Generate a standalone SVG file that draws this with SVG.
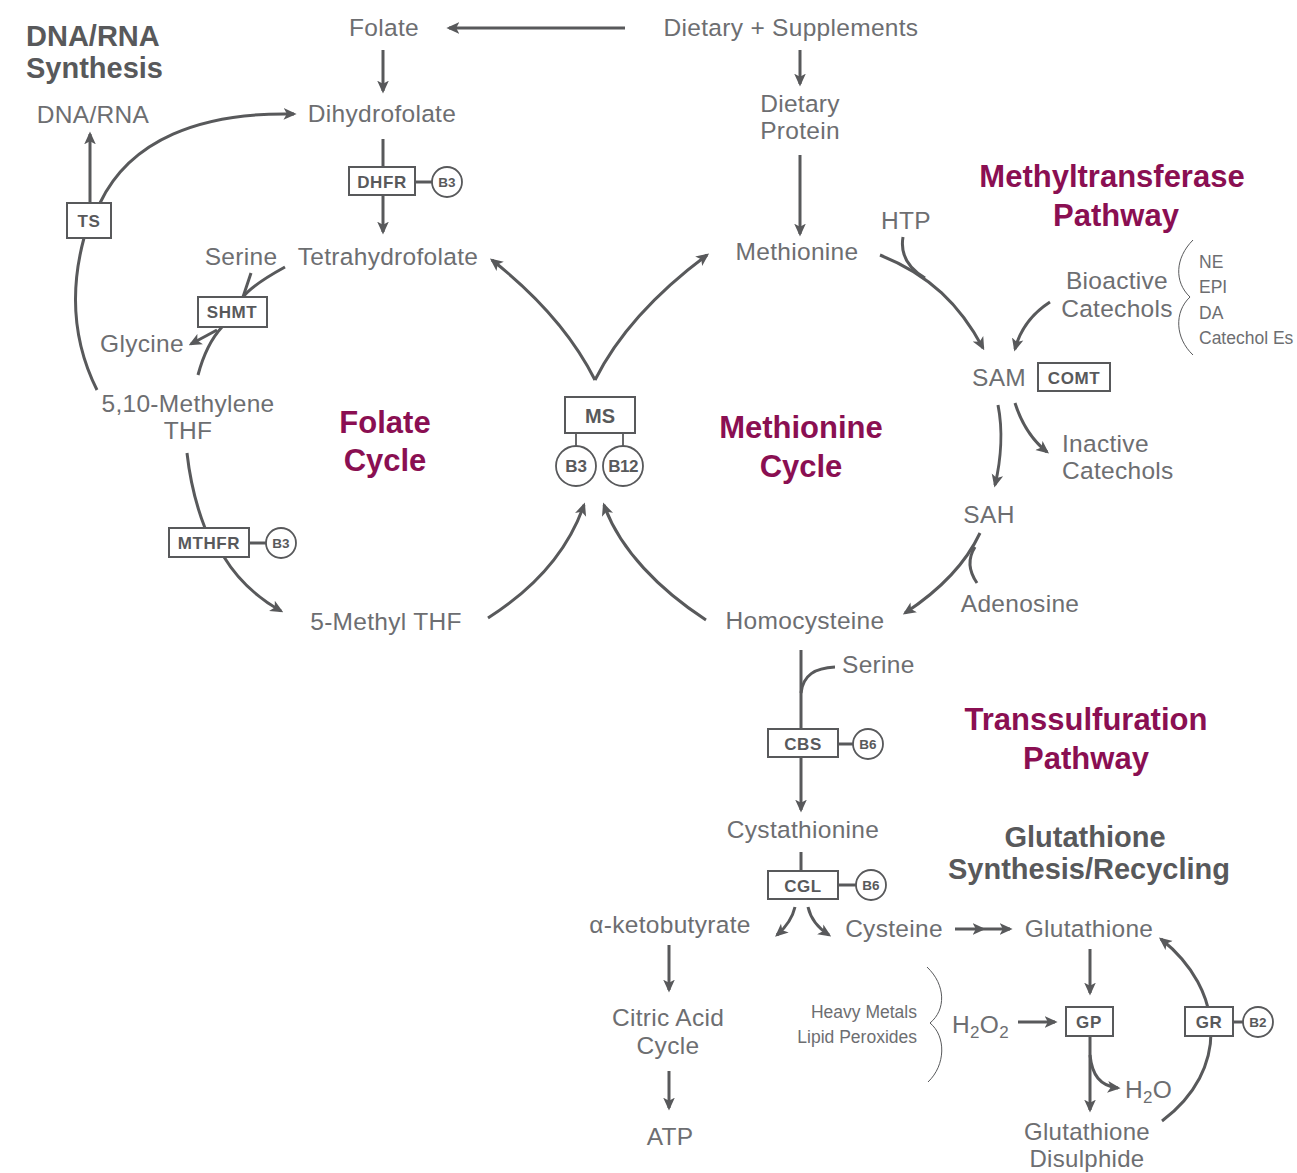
<svg xmlns="http://www.w3.org/2000/svg" width="1297" height="1173" viewBox="0 0 1297 1173">
<style>
text{font-family:"Liberation Sans",Arial,sans-serif}
.t{font-size:24.5px;fill:#6d6e71;letter-spacing:0.3px}
.s{font-size:17.5px;fill:#6d6e71}
.m{font-size:31px;font-weight:bold;fill:#8a0f52}
.d{font-size:29px;font-weight:bold;fill:#58595b}
.e{font-size:17px;font-weight:bold;fill:#58595b;letter-spacing:0.6px}
.v{font-size:13.5px;font-weight:bold;fill:#58595b}
.vb{font-size:17px;font-weight:bold;fill:#58595b}
.bx{fill:#fff;stroke:#58595b;stroke-width:2}
.c{fill:#fff;stroke:#58595b;stroke-width:1.8}
.ln{fill:none;stroke:#58595b;stroke-width:3}
.ar{fill:none;stroke:#58595b;stroke-width:3;marker-end:url(#ah)}
.br{fill:none;stroke:#58595b;stroke-width:1}
.st{fill:none;stroke:#58595b;stroke-width:1.8}
</style>
<defs>
<marker id="ah" viewBox="0 0 10 10" refX="8" refY="5" markerWidth="13" markerHeight="13" markerUnits="userSpaceOnUse" orient="auto"><path d="M0,0.5 L10,5 L0,9.5 L2.5,5 z" fill="#58595b"/></marker>
</defs>
<rect width="1297" height="1173" fill="#fff"/>

<g id="connectors">
<line class="ar" x1="625" y1="28" x2="449" y2="28"/>
<line class="ar" x1="383" y1="50" x2="383" y2="91"/>
<line class="ln" x1="383" y1="139" x2="383" y2="167"/>
<line class="ar" x1="383" y1="195" x2="383" y2="232"/>
<line class="ln" x1="415" y1="182" x2="432" y2="182"/>
<line class="ar" x1="800" y1="50" x2="800" y2="84"/>
<line class="ar" x1="800" y1="155" x2="800" y2="234"/>
<line class="ar" x1="90" y1="203" x2="90" y2="134"/>
<path class="ar" d="M100,203 C130,140 200,112 294,114"/>
<path class="ln" d="M84,238 C70,290 72,340 97,390"/>
<path class="ln" d="M251,273 L243,297"/>
<path class="ln" d="M285,267 C265,278 250,288 243,297"/>
<path class="ln" d="M222,327 C210,340 202,360 198,375"/>
<path class="ar" d="M217,330 L191,344"/>
<path class="ln" d="M187,453 C190,480 196,505 205,528"/>
<path class="ar" d="M224,557 C238,580 258,598 281,611"/>
<line class="ln" x1="249" y1="543" x2="266" y2="543"/>
<path class="ar" d="M488,618 C540,585 570,545 584,505"/>
<path class="ar" d="M706,620 C660,590 620,550 604,505"/>
<path class="ar" d="M595,380 C570,330 530,290 492,260"/>
<path class="ar" d="M595,380 C620,330 660,290 707,255"/>
<line class="st" x1="576" y1="433" x2="576" y2="446"/>
<line class="st" x1="623" y1="433" x2="623" y2="446"/>
<path class="ar" d="M880,255 C930,275 960,305 983,348"/>
<path class="ln" d="M903,237 C900,255 908,268 925,278"/>
<path class="ar" d="M1050,302 C1030,315 1020,330 1015,349"/>
<path class="ar" d="M998,405 C1003,430 1001,460 995,485"/>
<path class="ar" d="M1015,403 C1022,425 1032,440 1047,452"/>
<path class="ar" d="M980,533 C965,565 940,590 905,613"/>
<path class="ln" d="M977,583 C968,570 968,558 975,547"/>
<line class="ln" x1="801" y1="650" x2="801" y2="729"/>
<path class="ln" d="M835,667 C815,668 803,675 801,693"/>
<line class="ar" x1="801" y1="757" x2="801" y2="810"/>
<line class="ln" x1="838" y1="744" x2="853" y2="744"/>
<line class="ln" x1="801" y1="852" x2="801" y2="871"/>
<line class="ln" x1="838" y1="885" x2="857" y2="885"/>
<path class="ar" d="M795,907 C792,920 785,928 777,935"/>
<path class="ar" d="M808,907 C811,920 818,928 829,935"/>
<path class="ar" d="M955,929 L983,929 L1010,929" style="marker-mid:url(#ah)"/>
<line class="ar" x1="669" y1="945" x2="669" y2="990"/>
<line class="ar" x1="669" y1="1071" x2="669" y2="1108"/>
<line class="ar" x1="1018" y1="1022" x2="1055" y2="1022"/>
<line class="ar" x1="1090" y1="949" x2="1090" y2="993"/>
<line class="ar" x1="1090" y1="1036" x2="1090" y2="1110"/>
<path class="ar" d="M1090,1055 C1092,1075 1100,1086 1118,1088"/>
<path class="ar" d="M1162,1121 C1230,1070 1225,990 1161,939"/>
<line class="ln" x1="1233" y1="1022" x2="1243" y2="1022"/>
<path class="br" d="M1193,240 C1175,258 1174,282 1190,297 C1174,312 1175,338 1193,355"/>
<path class="br" d="M927,967 C946,985 946,1010 930,1023 C946,1036 946,1065 928,1082"/>
</g>

<g id="titles">
<text class="d" x="26" y="46">DNA/RNA</text>
<text class="d" x="26" y="78">Synthesis</text>
<text class="m" x="385" y="433" text-anchor="middle">Folate</text>
<text class="m" x="385" y="471" text-anchor="middle">Cycle</text>
<text class="m" x="801" y="438" text-anchor="middle">Methionine</text>
<text class="m" x="801" y="477" text-anchor="middle">Cycle</text>
<text class="m" x="1112" y="187" text-anchor="middle">Methyltransferase</text>
<text class="m" x="1116" y="226" text-anchor="middle">Pathway</text>
<text class="m" x="1086" y="730" text-anchor="middle">Transsulfuration</text>
<text class="m" x="1086" y="769" text-anchor="middle">Pathway</text>
<text class="d" x="1085" y="847" text-anchor="middle">Glutathione</text>
<text class="d" x="1089" y="879" text-anchor="middle">Synthesis/Recycling</text>
</g>

<g id="n-folate"><text class="t" x="384" y="36" text-anchor="middle">Folate</text></g>
<g id="n-dietary"><text class="t" x="791" y="36" text-anchor="middle">Dietary + Supplements</text></g>
<g id="n-dietary-protein"><text class="t" x="800" y="112" text-anchor="middle">Dietary</text><text class="t" x="800" y="139" text-anchor="middle">Protein</text></g>
<g id="n-dihydrofolate"><text class="t" x="382" y="122" text-anchor="middle">Dihydrofolate</text></g>
<g id="n-dhfr"><rect class="bx" x="349" y="167" width="66" height="28"/><text class="e" x="382" y="188" text-anchor="middle">DHFR</text><circle class="c" cx="447" cy="182" r="15"/><text class="v" x="447" y="187" text-anchor="middle">B3</text></g>
<g id="n-thf"><text class="t" x="388" y="265" text-anchor="middle">Tetrahydrofolate</text></g>
<g id="n-serine1"><text class="t" x="241" y="265" text-anchor="middle">Serine</text></g>
<g id="n-dnarna"><text class="t" x="93" y="123" text-anchor="middle">DNA/RNA</text></g>
<g id="n-ts"><rect class="bx" x="67" y="203" width="44" height="35"/><text class="e" x="89" y="227" text-anchor="middle">TS</text></g>
<g id="n-shmt"><rect class="bx" x="198" y="297" width="69" height="30"/><text class="e" x="232" y="318" text-anchor="middle">SHMT</text></g>
<g id="n-glycine"><text class="t" x="142" y="352" text-anchor="middle">Glycine</text></g>
<g id="n-methylene"><text class="t" x="188" y="412" text-anchor="middle">5,10-Methylene</text><text class="t" x="188" y="439" text-anchor="middle">THF</text></g>
<g id="n-mthfr"><rect class="bx" x="169" y="528" width="80" height="29"/><text class="e" x="209" y="549" text-anchor="middle">MTHFR</text><circle class="c" cx="281" cy="543" r="15"/><text class="v" x="281" y="548" text-anchor="middle">B3</text></g>
<g id="n-5mthf"><text class="t" x="386" y="630" text-anchor="middle">5-Methyl THF</text></g>
<g id="n-ms"><rect class="bx" x="565" y="397" width="70" height="36"/><text class="vb" x="600" y="423" text-anchor="middle" style="font-size:20px">MS</text><circle class="c" cx="576" cy="466" r="20"/><text class="vb" x="576" y="472" text-anchor="middle">B3</text><circle class="c" cx="623" cy="466" r="20"/><text class="vb" x="623" y="472" text-anchor="middle" style="letter-spacing:-0.5px">B12</text></g>
<g id="n-methionine"><text class="t" x="797" y="260" text-anchor="middle">Methionine</text></g>
<g id="n-htp"><text class="t" x="906" y="229" text-anchor="middle">HTP</text></g>
<g id="n-bioactive"><text class="t" x="1117" y="289" text-anchor="middle">Bioactive</text><text class="t" x="1117" y="317" text-anchor="middle">Catechols</text></g>
<g id="n-catlist"><text class="s" x="1199" y="268">NE</text><text class="s" x="1199" y="293">EPI</text><text class="s" x="1199" y="319">DA</text><text class="s" x="1199" y="344">Catechol Es</text></g>
<g id="n-sam"><text class="t" x="999" y="386" text-anchor="middle">SAM</text></g>
<g id="n-comt"><rect class="bx" x="1038" y="363" width="72" height="28"/><text class="e" x="1074" y="384" text-anchor="middle">COMT</text></g>
<g id="n-inactive"><text class="t" x="1062" y="452">Inactive</text><text class="t" x="1062" y="479">Catechols</text></g>
<g id="n-sah"><text class="t" x="989" y="523" text-anchor="middle">SAH</text></g>
<g id="n-adenosine"><text class="t" x="1020" y="612" text-anchor="middle">Adenosine</text></g>
<g id="n-homocysteine"><text class="t" x="805" y="629" text-anchor="middle">Homocysteine</text></g>
<g id="n-serine2"><text class="t" x="842" y="673">Serine</text></g>
<g id="n-cbs"><rect class="bx" x="768" y="729" width="70" height="28"/><text class="e" x="803" y="750" text-anchor="middle">CBS</text><circle class="c" cx="868" cy="744" r="15"/><text class="v" x="868" y="749" text-anchor="middle">B6</text></g>
<g id="n-cystathionine"><text class="t" x="803" y="838" text-anchor="middle">Cystathionine</text></g>
<g id="n-cgl"><rect class="bx" x="768" y="871" width="70" height="28"/><text class="e" x="803" y="892" text-anchor="middle">CGL</text><circle class="c" cx="871" cy="885" r="15"/><text class="v" x="871" y="890" text-anchor="middle">B6</text></g>
<g id="n-aketo"><text class="t" x="670" y="933" text-anchor="middle">α-ketobutyrate</text></g>
<g id="n-cysteine"><text class="t" x="894" y="937" text-anchor="middle">Cysteine</text></g>
<g id="n-glutathione"><text class="t" x="1089" y="937" text-anchor="middle">Glutathione</text></g>
<g id="n-citric"><text class="t" x="668" y="1026" text-anchor="middle">Citric Acid</text><text class="t" x="668" y="1054" text-anchor="middle">Cycle</text></g>
<g id="n-atp"><text class="t" x="670" y="1145" text-anchor="middle">ATP</text></g>
<g id="n-heavy"><text class="s" x="917" y="1018" text-anchor="end">Heavy Metals</text><text class="s" x="917" y="1043" text-anchor="end">Lipid Peroxides</text></g>
<g id="n-h2o2"><text class="t" x="952" y="1033">H<tspan style="font-size:17px" dy="5">2</tspan><tspan dy="-5">O</tspan><tspan style="font-size:17px" dy="5">2</tspan></text></g>
<g id="n-gp"><rect class="bx" x="1066" y="1007" width="47" height="29"/><text class="e" x="1089" y="1028" text-anchor="middle">GP</text></g>
<g id="n-gr"><rect class="bx" x="1185" y="1007" width="48" height="29"/><text class="e" x="1209" y="1028" text-anchor="middle">GR</text><circle class="c" cx="1258" cy="1022" r="15"/><text class="v" x="1258" y="1027" text-anchor="middle">B2</text></g>
<g id="n-h2o"><text class="t" x="1125" y="1098">H<tspan style="font-size:17px" dy="5">2</tspan><tspan dy="-5">O</tspan></text></g>
<g id="n-gssg"><text class="t" x="1087" y="1140" text-anchor="middle" style="font-size:24px">Glutathione</text><text class="t" x="1087" y="1167" text-anchor="middle" style="font-size:24px">Disulphide</text></g>
</svg>
